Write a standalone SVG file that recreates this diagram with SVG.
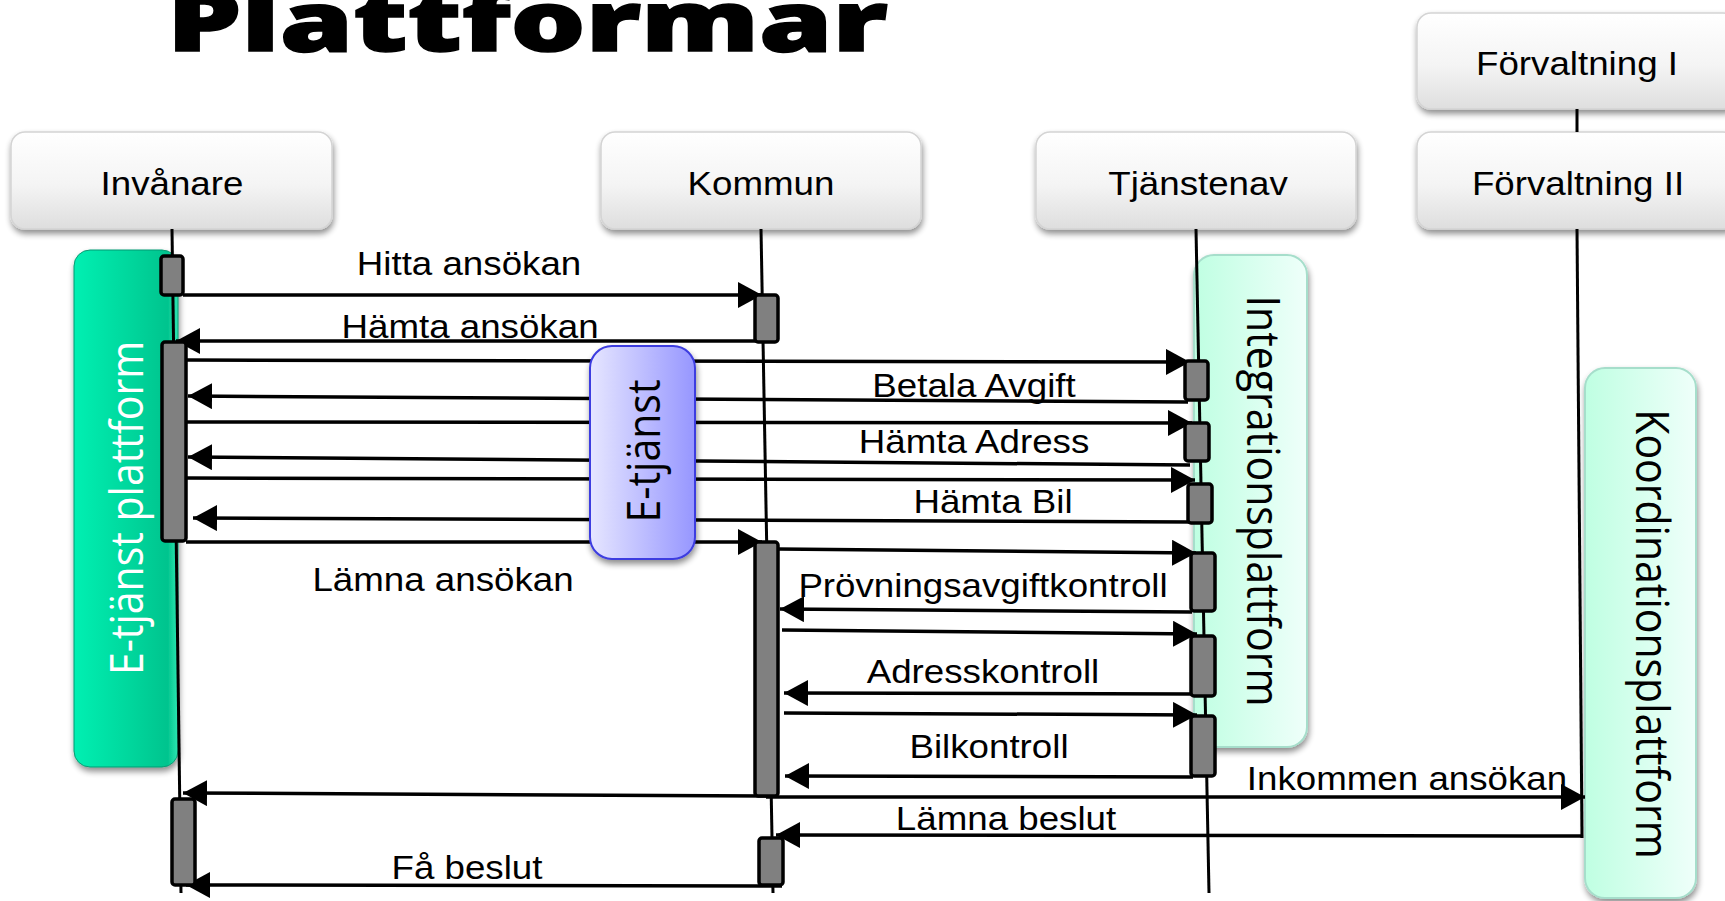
<svg xmlns="http://www.w3.org/2000/svg" width="1725" height="901" viewBox="0 0 1725 901">
<defs>
  <linearGradient id="gHead" x1="0" y1="0" x2="0" y2="1">
    <stop offset="0" stop-color="#ffffff"/>
    <stop offset="0.55" stop-color="#f4f4f4"/>
    <stop offset="1" stop-color="#dedede"/>
  </linearGradient>
  <linearGradient id="gGreen" x1="0" y1="0" x2="1" y2="0">
    <stop offset="0" stop-color="#00f0b2"/>
    <stop offset="0.55" stop-color="#00d69c"/>
    <stop offset="0.9" stop-color="#00c48e"/>
    <stop offset="1" stop-color="#2ee6b2"/>
  </linearGradient>
  <linearGradient id="gBlue" x1="0" y1="0" x2="1" y2="0">
    <stop offset="0" stop-color="#e6e6ff"/>
    <stop offset="1" stop-color="#9696ff"/>
  </linearGradient>
  <linearGradient id="gMint" x1="0" y1="0" x2="1" y2="0">
    <stop offset="0" stop-color="#bfffe2"/>
    <stop offset="1" stop-color="#effffa"/>
  </linearGradient>
  <filter id="shadow" x="-20%" y="-20%" width="140%" height="140%">
    <feGaussianBlur in="SourceAlpha" stdDeviation="3"/>
    <feOffset dx="1" dy="4" result="o"/>
    <feComponentTransfer><feFuncA type="linear" slope="0.45"/></feComponentTransfer>
    <feMerge><feMergeNode/><feMergeNode in="SourceGraphic"/></feMerge>
  </filter>
  <marker id="ah" markerUnits="userSpaceOnUse" markerWidth="25" markerHeight="26" refX="24" refY="13" orient="auto">
    <path d="M0,0 L24,13 L0,26 z" fill="#000"/>
  </marker>
  <style>
    .head{fill:url(#gHead);stroke:#d4d4d4;stroke-width:1.5;filter:url(#shadow)}
    .hl{font-family:"Liberation Sans",Arial,sans-serif;font-size:32.5px;fill:#000;text-anchor:middle}
    .lbl{font-family:"Liberation Sans",Arial,sans-serif;font-size:32.5px;fill:#000;text-anchor:middle}
    .rot{font-family:"Open Sans","Noto Sans",sans-serif;font-size:41px;text-anchor:middle}
    .life{stroke:#000;stroke-width:3;fill:none}
    .act{fill:#808080;stroke:#000;stroke-width:3.5}
    .msg{stroke:#000;stroke-width:3.5;fill:none;marker-end:url(#ah)}
    .title{font-family:"Open Sans","Noto Sans","Liberation Sans",sans-serif;font-weight:800;font-size:84px;fill:#000;stroke:#000;stroke-width:1.5}
  </style>
</defs>
<rect x="0" y="0" width="1725" height="901" fill="#ffffff"/>

<g id="title">
  <text class="title" x="167" y="51" textLength="721" lengthAdjust="spacingAndGlyphs">Plattformar</text>
</g>

<!-- platform backgrounds -->
<g id="etjanst-plattform">
  <rect x="74" y="250" width="104" height="517" rx="16" fill="url(#gGreen)" stroke="#0a9a72" stroke-width="1" filter="url(#shadow)"/>
  <text class="rot" fill="#ffffff" transform="translate(143 508) scale(1.13 1) rotate(-90)">E-tjänst plattform</text>
</g>
<g id="integrationsplattform">
  <rect x="1194" y="255" width="113" height="492" rx="20" fill="url(#gMint)" stroke="#a6decb" stroke-width="2" filter="url(#shadow)"/>
  <text class="rot" fill="#000" transform="translate(1247 501) scale(1.13 1) rotate(90)">Integrationsplattform</text>
</g>
<g id="koordinationsplattform">
  <rect x="1585" y="368" width="111" height="530" rx="20" fill="url(#gMint)" stroke="#a6decb" stroke-width="2" filter="url(#shadow)"/>
  <text class="rot" fill="#000" transform="translate(1636 634) scale(1.13 1) rotate(90)">Koordinationsplattform</text>
</g>

<!-- header nodes -->
<g id="invanare">
  <rect class="head" x="11" y="132" width="321" height="97" rx="14"/>
  <text class="hl" transform="translate(172 195) scale(1.13 1)">Invånare</text>
</g>
<g id="kommun">
  <rect class="head" x="601" y="132" width="320" height="97" rx="14"/>
  <text class="hl" transform="translate(761 195) scale(1.13 1)">Kommun</text>
</g>
<g id="tjanstenav">
  <rect class="head" x="1036" y="132" width="320" height="97" rx="14"/>
  <text class="hl" transform="translate(1198 195) scale(1.13 1)">Tjänstenav</text>
</g>
<g id="forvaltning1">
  <rect class="head" x="1417" y="13" width="320" height="96" rx="14"/>
  <text class="hl" transform="translate(1577 75) scale(1.13 1)">Förvaltning I</text>
</g>
<g id="forvaltning2">
  <rect class="head" x="1417" y="132" width="320" height="97" rx="14"/>
  <text class="hl" transform="translate(1578 195) scale(1.13 1)">Förvaltning II</text>
</g>

<!-- lifelines -->
<g id="lifelines">
  <line class="life" x1="172" y1="229" x2="181" y2="893"/>
  <line class="life" x1="761" y1="229" x2="773" y2="893"/>
  <line class="life" x1="1196" y1="229" x2="1209" y2="893"/>
  <line class="life" x1="1577" y1="109" x2="1577" y2="132"/>
  <line class="life" x1="1577" y1="229" x2="1582" y2="838"/>
</g>

<!-- connectors -->
<g id="connectors">
  <line class="msg" x1="183" y1="295" x2="762" y2="295"/>
  <line class="msg" x1="756" y1="341" x2="176" y2="341"/>
  <line class="msg" x1="186" y1="360" x2="1190" y2="362"/>
  <line class="msg" x1="1188" y1="402" x2="188" y2="396"/>
  <line class="msg" x1="186" y1="422" x2="1192" y2="423"/>
  <line class="msg" x1="1190" y1="465" x2="188" y2="457"/>
  <line class="msg" x1="186" y1="478" x2="1195" y2="480"/>
  <line class="msg" x1="1192" y1="522" x2="193" y2="518"/>
  <line class="msg" x1="186" y1="542" x2="762" y2="542"/>
  <line class="msg" x1="778" y1="549" x2="1196" y2="553"/>
  <line class="msg" x1="1192" y1="612" x2="780" y2="609"/>
  <line class="msg" x1="782" y1="630" x2="1197" y2="634"/>
  <line class="msg" x1="1193" y1="694" x2="784" y2="693"/>
  <line class="msg" x1="784" y1="713" x2="1197" y2="715"/>
  <line class="msg" x1="1193" y1="777" x2="785" y2="776"/>
  <line class="msg" x1="778" y1="796" x2="183" y2="793"/>
  <line class="msg" x1="766" y1="797" x2="1585" y2="797"/>
  <line class="msg" x1="1582" y1="836" x2="776" y2="835"/>
  <line class="msg" x1="782" y1="886" x2="186" y2="885"/>
</g>

<!-- activation boxes -->
<g id="activations">
  <rect class="act" x="161" y="256" width="22" height="39" rx="3"/>
  <rect class="act" x="755" y="295" width="23" height="47" rx="3"/>
  <rect class="act" x="162" y="342" width="24" height="199" rx="3"/>
  <rect class="act" x="1185" y="361" width="23" height="39" rx="3"/>
  <rect class="act" x="1185" y="423" width="24" height="38" rx="3"/>
  <rect class="act" x="1188" y="484" width="24" height="39" rx="3"/>
  <rect class="act" x="1191" y="553" width="24" height="58" rx="3"/>
  <rect class="act" x="1191" y="636" width="24" height="60" rx="3"/>
  <rect class="act" x="1191" y="716" width="24" height="60" rx="3"/>
  <rect class="act" x="755" y="542" width="23" height="254" rx="3"/>
  <rect class="act" x="172" y="799" width="23" height="86" rx="3"/>
  <rect class="act" x="759" y="838" width="24" height="47" rx="3"/>
</g>

<g id="etjanst">
  <rect x="590" y="346" width="105" height="213" rx="22" fill="url(#gBlue)" stroke="#3c3ce0" stroke-width="2" filter="url(#shadow)"/>
  <text class="rot" fill="#000" transform="translate(660 451) scale(1.13 1) rotate(-90)">E-tjänst</text>
</g>

<!-- message labels -->
<g id="labels">
  <text class="lbl" transform="translate(469 275) scale(1.13 1)">Hitta ansökan</text>
  <text class="lbl" transform="translate(470 338) scale(1.13 1)">Hämta ansökan</text>
  <text class="lbl" transform="translate(974 397) scale(1.13 1)">Betala Avgift</text>
  <text class="lbl" transform="translate(974 453) scale(1.13 1)">Hämta Adress</text>
  <text class="lbl" transform="translate(993 513) scale(1.13 1)">Hämta Bil</text>
  <text class="lbl" transform="translate(443 591) scale(1.13 1)">Lämna ansökan</text>
  <text class="lbl" transform="translate(983 597) scale(1.13 1)">Prövningsavgiftkontroll</text>
  <text class="lbl" transform="translate(983 683) scale(1.13 1)">Adresskontroll</text>
  <text class="lbl" transform="translate(989 758) scale(1.13 1)">Bilkontroll</text>
  <text class="lbl" transform="translate(1407 790) scale(1.13 1)">Inkommen ansökan</text>
  <text class="lbl" transform="translate(1006 830) scale(1.13 1)">Lämna beslut</text>
  <text class="lbl" transform="translate(467 879) scale(1.13 1)">Få beslut</text>
</g>
</svg>
